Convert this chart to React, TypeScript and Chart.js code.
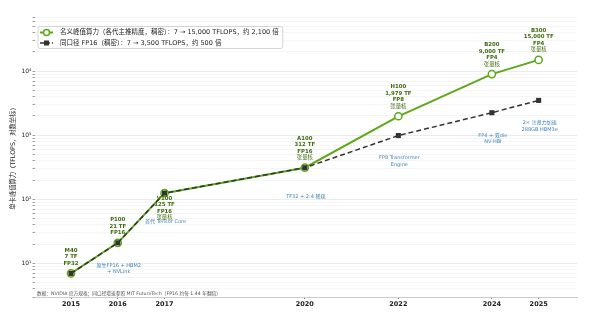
import React, { useEffect, useRef } from 'react';
import { Chart, registerables } from 'chart.js';

Chart.register(...registerables);

// ---------- data ----------
const years = [2015, 2016, 2017, 2020, 2022, 2024, 2025];
const gpuNames = ['M40', 'P100', 'V100', 'A100', 'H100', 'B200', 'B300'];
const nominalTF = [7, 21, 125, 312, 1979, 9000, 15000];
const precisions = ['FP32', 'FP16', 'FP16', 'FP16', 'FP8', 'FP4', 'FP4'];
const tensorCore = [false, false, true, true, true, true, true];
const fp16TF = [7, 21, 125, 312, 990, 2250, 3500];
const featureNotes: (string[] | null)[] = [
  null,
  ['原生FP16 + HBM2', '+ NVLink'],
  ['首代 Tensor Core'],
  ['TF32 + 2:4 稀疏'],
  ['FP8 Transformer', 'Engine'],
  ['FP4 + 双die', 'NV-HBI'],
  ['2× 注意力加速', '288GB HBM3e'],
];
const majorTicks = [10, 100, 1000, 10000];
const superDigits = ['⁰', '¹', '²', '³', '⁴', '⁵'];
const legendLabels = [
  '名义峰值算力（各代主推精度，稠密）：7 → 15,000 TFLOPS，约 2,100 倍',
  '同口径 FP16（稠密）：7 → 3,500 TFLOPS，约 500 倍',
];
const yTitle = '单卡峰值算力（TFLOPS，对数坐标）';
const sourceNote = '数据：NVIDIA 官方规格；同口径增速参照 MIT FutureTech（FP16 约每 1.44 年翻倍）';
const tensorCoreText = '张量核';

// ---------- style ----------
const FONT = "'DejaVu Sans', 'Noto Sans CJK SC', sans-serif";
const GREEN = '#5ea819';
const GREEN_TEXT = '#3f6b0f';
const DARK = '#333333';
const BLUE_TEXT = '#3f84b5';
const LABEL_BELOW = new Set(['V100']);

export default function App() {
  const ref = useRef<HTMLCanvasElement>(null);

  useEffect(() => {
    if (!ref.current) return;

    const annotate = {
      id: 'annotate',
      afterDatasetsDraw(chart: any) {
        const { ctx, scales } = chart;
        const x = scales.x;
        const y = scales.y;
        ctx.save();
        ctx.textAlign = 'center';
        ctx.textBaseline = 'middle';
        const LH = 6.4;
        years.forEach((yr, i) => {
          const px = x.getPixelForValue(yr);
          const py = y.getPixelForValue(nominalTF[i]);
          const lines = [gpuNames[i], nominalTF[i].toLocaleString('en-US') + ' TF', precisions[i]];
          if (tensorCore[i]) lines.push(tensorCoreText);
          const below = LABEL_BELOW.has(gpuNames[i]);
          ctx.fillStyle = GREEN_TEXT;
          lines.forEach((t, k) => {
            ctx.font = (t === tensorCoreText ? '' : 'bold ') + `5.4px ${FONT}`;
            const ly = below ? py + 5.5 + k * LH : py - 10 - (lines.length - 1 - k) * LH;
            ctx.fillText(t, px, ly);
          });
          const notes = featureNotes[i];
          if (notes) {
            const fy = y.getPixelForValue(fp16TF[i]);
            ctx.fillStyle = BLUE_TEXT;
            ctx.font = `5px ${FONT}`;
            notes.forEach((t, k) => {
              const ly = fy + 29 - (notes.length - 1 - k) * LH;
              ctx.fillText(t, px + 1, ly);
            });
          }
        });
        // source note
        ctx.textAlign = 'left';
        ctx.fillStyle = '#555';
        ctx.font = `4.7px ${FONT}`;
        ctx.fillText(sourceNote, chart.chartArea.left + 2, chart.chartArea.bottom - 3.5);
        ctx.restore();
      },
      afterDraw(chart: any) {
        const { ctx, chartArea } = chart;
        ctx.save();
        ctx.font = `6.5px ${FONT}`;
        const textW = Math.max(...legendLabels.map((t) => ctx.measureText(t).width));
        const bx = chartArea.left + 3;
        const by = chartArea.top + 9.5;
        const bw = 22 + textW + 4;
        const bh = 22;
        ctx.fillStyle = 'rgba(255,255,255,0.85)';
        ctx.strokeStyle = '#cccccc';
        ctx.lineWidth = 0.8;
        ctx.beginPath();
        ctx.roundRect(bx, by, bw, bh, 2);
        ctx.fill();
        ctx.stroke();
        const rows = [by + 6, by + 16.5];
        // row 1 : green line + hollow circle
        ctx.strokeStyle = GREEN;
        ctx.lineWidth = 2;
        ctx.setLineDash([]);
        ctx.beginPath();
        ctx.moveTo(bx + 2, rows[0]);
        ctx.lineTo(bx + 15, rows[0]);
        ctx.stroke();
        ctx.fillStyle = '#fff';
        ctx.lineWidth = 1.5;
        ctx.beginPath();
        ctx.arc(bx + 8.5, rows[0], 3, 0, Math.PI * 2);
        ctx.fill();
        ctx.stroke();
        // row 2 : dashed dark line + square
        ctx.strokeStyle = DARK;
        ctx.lineWidth = 1.5;
        ctx.setLineDash([4, 2]);
        ctx.beginPath();
        ctx.moveTo(bx + 2, rows[1]);
        ctx.lineTo(bx + 15, rows[1]);
        ctx.stroke();
        ctx.setLineDash([]);
        ctx.fillStyle = DARK;
        ctx.fillRect(bx + 8.5 - 2.5, rows[1] - 2.5, 5, 5);
        // texts
        ctx.fillStyle = '#222';
        ctx.textAlign = 'left';
        ctx.textBaseline = 'middle';
        legendLabels.forEach((t, k) => ctx.fillText(t, bx + 22, rows[k]));
        ctx.restore();
      },
    };

    const chart = new Chart(ref.current, {
      type: 'line',
      data: {
        datasets: [
          {
            label: legendLabels[0],
            data: years.map((yr, i) => ({ x: yr, y: nominalTF[i] })),
            borderColor: GREEN,
            borderWidth: 2,
            pointRadius: 3.6,
            pointBackgroundColor: '#ffffff',
            pointBorderColor: GREEN,
            pointBorderWidth: 1.5,
            order: 2,
            tension: 0,
          },
          {
            label: legendLabels[1],
            data: years.map((yr, i) => ({ x: yr, y: fp16TF[i] })),
            borderColor: DARK,
            borderWidth: 1.5,
            borderDash: [5, 3],
            pointStyle: 'rect',
            pointRadius: 3.6,
            pointBackgroundColor: DARK,
            pointBorderColor: DARK,
            pointBorderWidth: 0,
            order: 1,
            tension: 0,
          },
        ],
      },
      options: {
        animation: false,
        responsive: false,
        devicePixelRatio: 1,
        layout: { padding: { left: 0, right: 23, top: 17, bottom: 0 } },
        plugins: { legend: { display: false }, tooltip: { enabled: false } },
        scales: {
          x: {
            type: 'linear',
            min: 2014.23,
            max: 2025.82,
            afterBuildTicks: (s: any) => {
              s.ticks = years.map((v) => ({ value: v }));
            },
            afterFit: (s: any) => {
              s.height = 20;
            },
            ticks: {
              autoSkip: false,
              maxRotation: 0,
              padding: 1,
              color: '#222',
              font: { family: FONT, size: 6.5, weight: 'bold' },
              callback: (v: any) => String(v),
            },
            grid: { drawOnChartArea: false, drawTicks: true, tickLength: 2, tickColor: '#777' },
            border: { display: true, color: '#cccccc', width: 1 },
          },
          y: {
            type: 'logarithmic',
            min: 3,
            max: 70000,
            afterBuildTicks: (s: any) => {
              const t: any[] = [];
              for (let d = 1; d <= 10000; d *= 10) {
                for (let m = 1; m <= 9; m++) {
                  const v = d * m;
                  if (v >= 3 && v <= 70000) t.push({ value: v });
                }
              }
              s.ticks = t;
            },
            afterFit: (s: any) => {
              s.width = 35;
            },
            ticks: {
              autoSkip: false,
              padding: 1,
              color: '#222',
              font: { family: FONT, size: 6 },
              callback: (v: any) => {
                const idx = majorTicks.indexOf(Number(v));
                if (idx < 0) return '';
                return '10' + superDigits[Math.round(Math.log10(majorTicks[idx]))];
              },
            },
            grid: {
              color: (c: any) => (majorTicks.includes(c.tick?.value) ? '#e6e6e6' : '#f2f2f2'),
              tickColor: '#888',
              tickLength: 2.5,
              lineWidth: 0.8,
            },
            border: { display: false },
            title: {
              display: true,
              text: yTitle,
              color: '#222',
              font: { family: FONT, size: 6.3 },
              padding: { top: 10, bottom: 0 },
            },
          },
        },
      },
      plugins: [annotate],
    } as any);

    return () => chart.destroy();
  }, []);

  return (
    <div style={{ position: 'fixed', left: 0, top: 0, width: 600, height: 317, background: '#fff' }}>
      <canvas ref={ref} width={600} height={317} />
    </div>
  );
}
